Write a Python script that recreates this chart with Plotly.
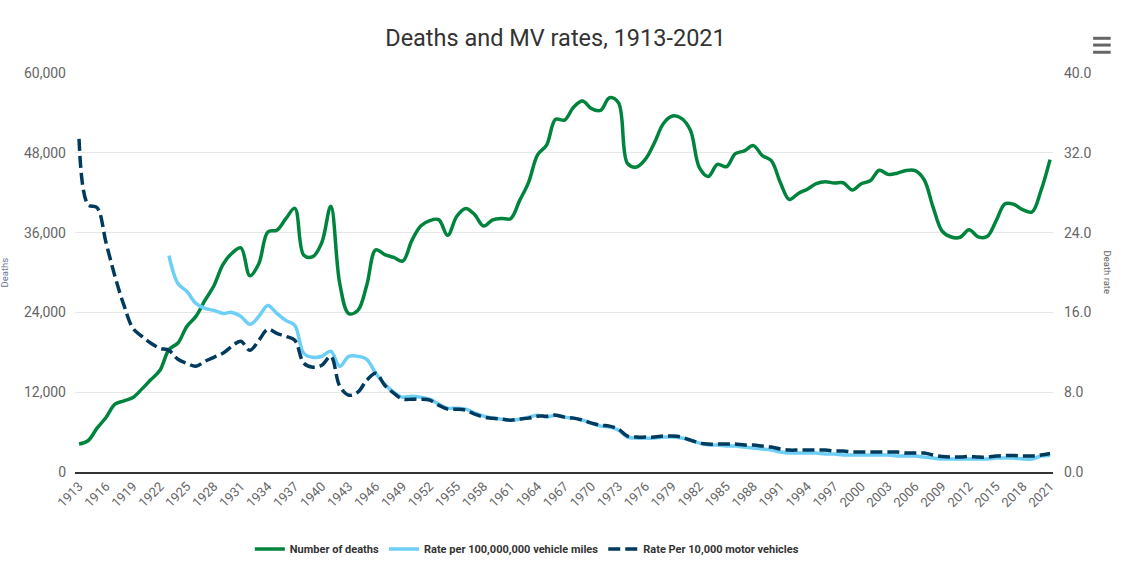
import plotly.graph_objects as go

years = list(range(1913, 2022))

# Number of deaths per year
deaths = [4200, 4700, 6600, 8200, 10200, 10700, 11200, 12500, 13900, 15300,
          18400, 19400, 21900, 23400, 25800, 28000, 31200, 32900, 33700, 29500,
          31363, 36101, 36369, 38089, 39643, 32582, 32386, 34501, 39969, 28309,
          23823, 24282, 28076, 33411, 32697, 32259, 31701, 34763, 36996, 37794,
          37956, 35586, 38426, 39628, 38702, 36981, 37910, 38137, 38091, 40804,
          43564, 47700, 49163, 53041, 52924, 54862, 55791, 54633, 54381, 56278,
          55511, 46402, 45853, 47038, 49510, 52411, 53524, 53172, 51385, 45779,
          44452, 46263, 45901, 47865, 48290, 49078, 47575, 46814, 43536, 40982,
          41893, 42524, 43363, 43649, 43458, 43501, 42401, 43354, 43788, 45380,
          44757, 44933, 45343, 45316, 43945, 39790, 36216, 35332, 35303, 36415,
          35369, 35398, 37757, 40327, 40231, 39404, 39107, 42339, 46980]

# Rate per 100,000,000 vehicle miles (starts 1923)
miles_years = list(range(1923, 2022))
rate_miles = [21.7, 18.9, 18.1, 16.9, 16.4, 16.2, 15.9, 16.0, 15.6, 14.8,
              15.6, 16.7, 15.9, 15.2, 14.7, 11.9, 11.5, 11.6, 12.1, 10.6,
              11.6, 11.6, 11.3, 9.9, 8.8, 8.0, 7.5, 7.6, 7.5, 7.3,
              6.8, 6.4, 6.4, 6.3, 5.9, 5.6, 5.4, 5.3, 5.2, 5.3,
              5.5, 5.7, 5.5, 5.7, 5.5, 5.4, 5.2, 4.9, 4.6, 4.5,
              4.2, 3.5, 3.4, 3.4, 3.4, 3.5, 3.5, 3.4, 3.2, 2.9,
              2.7, 2.7, 2.6, 2.6, 2.5, 2.4, 2.3, 2.2, 2.0, 1.9,
              1.9, 1.9, 1.9, 1.8, 1.8, 1.7, 1.7, 1.7, 1.7, 1.7,
              1.7, 1.6, 1.6, 1.6, 1.5, 1.4, 1.3, 1.3, 1.3, 1.3,
              1.3, 1.3, 1.4, 1.4, 1.4, 1.3, 1.3, 1.6, 1.65]

# Rate per 10,000 motor vehicles
rate_vehicles = [33.4, 26.8, 26.5, 23.0, 19.6, 16.7, 14.4, 13.6, 12.9, 12.4,
                 12.2, 11.3, 10.9, 10.6, 11.1, 11.5, 11.9, 12.6, 13.1, 12.2,
                 13.2, 14.3, 13.9, 13.6, 13.2, 10.9, 10.5, 10.7, 11.6, 8.6,
                 7.7, 8.0, 9.2, 9.9, 8.7, 7.9, 7.3, 7.3, 7.3, 7.2,
                 6.7, 6.3, 6.3, 6.2, 5.8, 5.5, 5.4, 5.3, 5.2, 5.3,
                 5.4, 5.6, 5.6, 5.7, 5.5, 5.4, 5.2, 4.9, 4.7, 4.6,
                 4.3, 3.6, 3.5, 3.5, 3.5, 3.6, 3.6, 3.5, 3.2, 2.9,
                 2.8, 2.8, 2.8, 2.8, 2.7, 2.7, 2.6, 2.5, 2.3, 2.2,
                 2.2, 2.2, 2.2, 2.2, 2.1, 2.1, 2.0, 2.0, 2.0, 2.0,
                 2.0, 2.0, 1.9, 1.9, 1.9, 1.7, 1.55, 1.5, 1.5, 1.55,
                 1.5, 1.5, 1.6, 1.65, 1.65, 1.6, 1.6, 1.7, 1.85]

tick_years = list(range(1913, 2022, 3))

fig = go.Figure()

fig.add_trace(go.Scatter(x=years, y=deaths, name="Number of deaths",
                         mode="lines", line=dict(color="#00843D", width=3.5, shape="spline")))
fig.add_trace(go.Scatter(x=miles_years, y=rate_miles, name="Rate per 100,000,000 vehicle miles",
                         mode="lines", yaxis="y2",
                         line=dict(color="#6DCFF6", width=3.5, shape="spline")))
fig.add_trace(go.Scatter(x=years, y=rate_vehicles, name="Rate Per 10,000 motor vehicles",
                         mode="lines", yaxis="y2",
                         line=dict(color="#003A5D", width=3.5, shape="spline", dash="12px,5px")))

fig.update_layout(
    width=1131, height=569,
    margin=dict(l=75, r=78, t=73, b=97, autoexpand=False),
    plot_bgcolor="white", paper_bgcolor="white",
    font=dict(family="Roboto", color="#666666"),
    title=dict(text="Deaths and MV rates, 1913-2021", x=555.5 / 1131, xref="container", xanchor="center",
               y=1 - 38 / 569, yanchor="middle", font=dict(size=23.5, color="#333333")),
    xaxis=dict(range=[1912.55, 2021.33], tickvals=tick_years, tickangle=-45,
               tickfont=dict(size=13, color="#666666"), showgrid=False, zeroline=False,
               showline=True, linecolor="#333333", linewidth=1.5, automargin=False),
    yaxis=dict(range=[0, 60000], dtick=12000, tickformat=",", tickfont=dict(size=14),
               gridcolor="#e6e6e6", zeroline=False, ticklabelstandoff=8, automargin=False),
    yaxis2=dict(range=[0, 40], dtick=8, tickformat=".1f", tickfont=dict(size=14),
                overlaying="y", side="right", showgrid=False, zeroline=False,
                ticklabelstandoff=10, automargin=False),
    legend=dict(orientation="h", x=0.462, xanchor="center", y=-0.193, yanchor="middle",
                font=dict(size=11, color="#333333", weight="bold")),
    showlegend=True,
)

# axis titles
fig.add_annotation(text="Deaths", xref="paper", yref="paper", x=-0.0716, y=0.5,
                   xanchor="center", yanchor="middle",
                   textangle=-90, showarrow=False, font=dict(size=9.5, color="#6b7a99"))
fig.add_annotation(text="Death rate", xref="paper", yref="paper", x=1.0562, y=0.5,
                   xanchor="center", yanchor="middle",
                   textangle=90, showarrow=False, font=dict(size=9.5, color="#666666"))

# menu icon
for yy in [1.087, 1.070, 1.052]:
    fig.add_shape(type="line", xref="paper", yref="paper", x0=1.041, x1=1.059, y0=yy, y1=yy,
                  line=dict(color="#666666", width=3))

# drop the default 8px body margin so the figure fills the window
fig.write_html("out.html", config={"displayModeBar": False},
               post_script="document.body.style.margin='0';")
